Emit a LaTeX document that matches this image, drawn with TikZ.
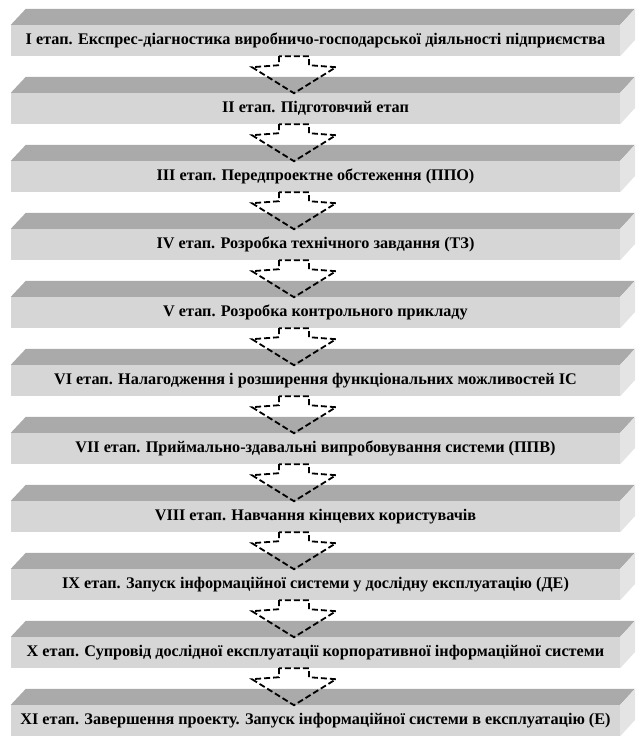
\documentclass[tikz,border=0pt]{standalone}
\usepackage{fontspec}
\setmainfont{Liberation Serif}
\usetikzlibrary{calc}

\definecolor{topgray}{RGB}{170,170,170}
\definecolor{frontgray}{RGB}{214,214,214}
\definecolor{sidegray}{RGB}{228,228,228}

\tikzset{
  stage/.style={fill=frontgray, inner sep=0pt, minimum width=609pt, minimum height=31pt,
    font=\fontsize{16.2}{19}\selectfont\bfseries},
  flow/.style={dash pattern=on 6pt off 3pt, line width=1.8pt, line join=miter}
}

\begin{document}
\begin{tikzpicture}[x=1pt,y=1pt,yscale=-1]
\useasboundingbox (0,0) rectangle (637,736);

%Stages: front face is the node, top and side faces round it
\foreach \k/\txt in {
  1/{I етап. Експрес-діагностика виробничо-господарської діяльності підприємства},
  2/{II етап. Підготовчий етап},
  3/{III етап. Передпроектне обстеження (ППО)},
  4/{IV етап. Розробка технічного завдання (ТЗ)},
  5/{V етап. Розробка контрольного прикладу},
  6/{VI етап. Налагодження і розширення функціональних можливостей ІС},
  7/{VII етап. Приймально-здавальні випробовування системи (ППВ)},
  8/{VIII етап. Навчання кінцевих користувачів},
  9/{IX етап. Запуск інформаційної системи у дослідну експлуатацію (ДЕ)},
  10/{X етап. Супровід дослідної експлуатації корпоративної інформаційної системи},
  11/{XI етап. Завершення проекту. Запуск інформаційної системи в експлуатацію (Е)}}
{
  % Text Node
  \node [stage] (s\k) at (315.5,{40.5+68*(\k-1)}) {\txt};
  %Shape: top face
  \fill [topgray] (s\k.north west) -- ++(15,-16) -- ++(609,0) -- (s\k.north east) -- cycle;
  %Shape: side face
  \fill [sidegray] (s\k.north east) -- ++(15,-16) -- ++(0,31) -- (s\k.south east) -- cycle;
}

%Dashed block arrows between stages
\foreach \k in {1,...,10}
{
  \draw [flow] ($(s\k.south)+(-36.5,0)$) -- ++(0,9) -- ++(-27,2) -- ++(42,26)
    -- ++(42,-26) -- ++(-27,-2) -- ++(0,-9) -- cycle;
}

\end{tikzpicture}
\end{document}
